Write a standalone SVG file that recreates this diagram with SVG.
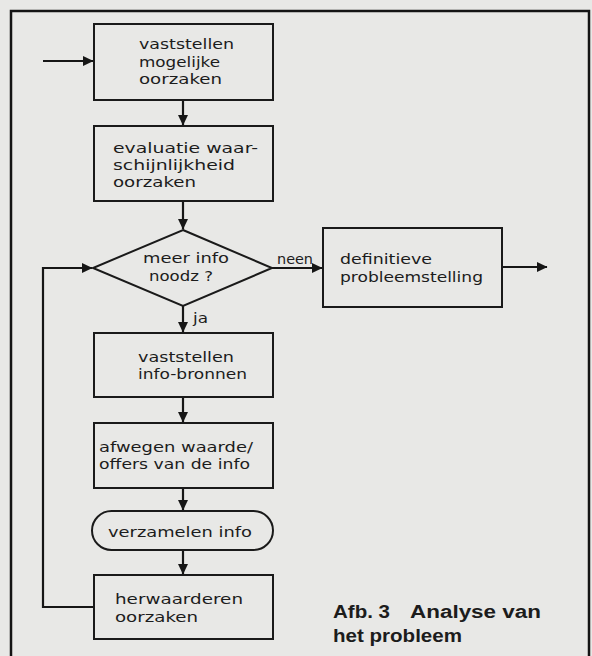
<svg xmlns="http://www.w3.org/2000/svg" width="592" height="656" viewBox="0 0 592 656">
<defs>
<marker id="ah" markerWidth="12" markerHeight="12" refX="10" refY="5.5" orient="auto" markerUnits="userSpaceOnUse">
<path d="M0,0.5 L10.5,5.5 L0,10.5 Z" fill="#161616"/>
</marker>
</defs>
<style>
.n{fill:none;stroke:#1a1a1a;stroke-width:2}
.c{fill:none;stroke:#161616;stroke-width:2.2}
.t{font-family:"DejaVu Sans",sans-serif;font-size:14px;fill:#1c1c1c}
.cap{font-family:"Liberation Sans",Arial,sans-serif;font-size:18px;font-weight:bold;fill:#1c1c1c}
</style>
<rect x="0" y="0" width="592" height="656" fill="#e8e8e6"/>
<path d="M11,656 V11 H589 V656" fill="none" stroke="#141414" stroke-width="2.5"/>
<g id="connectors">
<path class="c" d="M43,61 H93" marker-end="url(#ah)"/>
<path class="c" d="M183,100 V125" marker-end="url(#ah)"/>
<path class="c" d="M183,201 V229" marker-end="url(#ah)"/>
<path class="c" d="M183,306 V332" marker-end="url(#ah)"/>
<path class="c" d="M183,397 V422" marker-end="url(#ah)"/>
<path class="c" d="M183,488 V510" marker-end="url(#ah)"/>
<path class="c" d="M183,550 V574" marker-end="url(#ah)"/>
<path class="c" d="M94,607 H43 V268 H92" marker-end="url(#ah)"/>
<path class="c" d="M272,268 H322" marker-end="url(#ah)"/>
<path class="c" d="M502,267 H547" marker-end="url(#ah)"/>
<text class="t" x="277" y="264" textLength="36" lengthAdjust="spacingAndGlyphs">neen</text>
<text class="t" x="193" y="323" textLength="15" lengthAdjust="spacingAndGlyphs">ja</text>
</g>
<g id="n1">
<rect class="n" x="94" y="24" width="179" height="76"/>
<text class="t" x="139" y="49" textLength="95" lengthAdjust="spacingAndGlyphs">vaststellen</text>
<text class="t" x="139" y="67" textLength="81" lengthAdjust="spacingAndGlyphs">mogelijke</text>
<text class="t" x="139" y="84" textLength="83" lengthAdjust="spacingAndGlyphs">oorzaken</text>
</g>
<g id="n2">
<rect class="n" x="94" y="126" width="179" height="75"/>
<text class="t" x="113" y="153" textLength="145" lengthAdjust="spacingAndGlyphs">evaluatie waar-</text>
<text class="t" x="113" y="170" textLength="122" lengthAdjust="spacingAndGlyphs">schijnlijkheid</text>
<text class="t" x="113" y="187" textLength="83" lengthAdjust="spacingAndGlyphs">oorzaken</text>
</g>
<g id="n3">
<path class="n" d="M183,230 L272,268 L183,306 L93,268 Z"/>
<text class="t" x="143" y="263" textLength="86" lengthAdjust="spacingAndGlyphs">meer info</text>
<text class="t" x="149" y="281" textLength="64" lengthAdjust="spacingAndGlyphs">noodz ?</text>
</g>
<g id="n4">
<rect class="n" x="323" y="228" width="179" height="79"/>
<text class="t" x="340" y="264" textLength="92" lengthAdjust="spacingAndGlyphs">definitieve</text>
<text class="t" x="340" y="282" textLength="143" lengthAdjust="spacingAndGlyphs">probleemstelling</text>
</g>
<g id="n5">
<rect class="n" x="94" y="333" width="179" height="64"/>
<text class="t" x="138" y="362" textLength="96" lengthAdjust="spacingAndGlyphs">vaststellen</text>
<text class="t" x="138" y="379" textLength="109" lengthAdjust="spacingAndGlyphs">info-bronnen</text>
</g>
<g id="n6">
<rect class="n" x="94" y="423" width="179" height="65"/>
<text class="t" x="99" y="452" textLength="154" lengthAdjust="spacingAndGlyphs">afwegen waarde/</text>
<text class="t" x="99" y="469" textLength="151" lengthAdjust="spacingAndGlyphs">offers van de info</text>
</g>
<g id="n7">
<rect class="n" x="92" y="511" width="181" height="39" rx="19.5" ry="19.5"/>
<text class="t" x="108" y="537" textLength="144" lengthAdjust="spacingAndGlyphs">verzamelen info</text>
</g>
<g id="n8">
<rect class="n" x="94" y="575" width="179" height="64"/>
<text class="t" x="115" y="604" textLength="128" lengthAdjust="spacingAndGlyphs">herwaarderen</text>
<text class="t" x="115" y="622" textLength="83" lengthAdjust="spacingAndGlyphs">oorzaken</text>
</g>
<g id="caption">
<text class="cap" x="333" y="618" textLength="57" lengthAdjust="spacingAndGlyphs">Afb. 3</text>
<text class="cap" x="410" y="618" textLength="131" lengthAdjust="spacingAndGlyphs">Analyse van</text>
<text class="cap" x="333" y="642" textLength="129" lengthAdjust="spacingAndGlyphs">het probleem</text>
</g>
</svg>
